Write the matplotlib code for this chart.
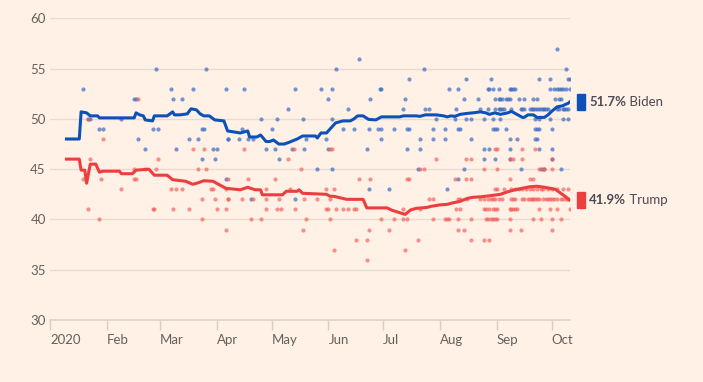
import numpy as np
import matplotlib.pyplot as plt
from matplotlib.patches import Rectangle
from matplotlib.transforms import blended_transform_factory

# polling averages: days since 2020-01-01, value
biden_avg_day = [9, 16, 17, 20, 22, 26, 27, 46, 47, 49, 51, 52, 56, 57, 64, 67, 68, 71, 75, 77,
                 80, 82, 84, 87, 90, 95, 97, 104, 108, 109, 113, 115, 118, 120, 122, 125, 128,
                 131, 135, 138, 145, 146, 148, 151, 154, 156, 160, 164, 166, 168, 171, 174, 178,
                 181, 184, 191, 193, 200, 202, 205, 211, 215, 217, 219, 221, 224, 228, 231, 235,
                 238, 240, 243, 246, 250, 252, 255, 258, 259, 261, 264, 266, 270, 272, 274, 277,
                 280, 281, 283, 284]
biden_avg_val = [48.0, 48.0, 50.7, 50.6, 50.3, 50.3, 50.1, 50.1, 50.6, 50.4, 50.3, 49.9, 49.8, 50.3,
                 50.3, 50.7, 50.4, 50.4, 50.5, 51.0, 50.9, 50.5, 50.3, 50.3, 49.9, 49.8, 48.8, 48.6,
                 48.8, 48.2, 48.2, 48.4, 47.75, 47.75, 47.9, 47.5, 47.5, 47.7, 48.0, 48.3, 48.3,
                 48.1, 48.6, 48.6, 49.2, 49.6, 49.8, 49.8, 50.0, 50.3, 50.3, 49.95, 49.9, 50.2,
                 50.2, 50.2, 50.3, 50.3, 50.25, 50.4, 50.4, 50.3, 50.2, 50.3, 50.25, 50.45, 50.55,
                 50.6, 50.7, 50.6, 50.45, 50.6, 50.45, 50.6, 50.75, 50.45, 50.15, 50.15, 50.4, 50.4,
                 50.15, 50.15, 50.4, 50.75, 51.2, 51.3, 51.4, 51.55, 51.7]

trump_avg_day = [9, 16, 17, 19, 20, 22, 25, 27, 29, 38, 39, 45, 47, 54, 57, 64, 67, 74, 78, 81,
                 84, 89, 92, 96, 104, 108, 112, 115, 116, 127, 129, 135, 136, 138, 151, 153, 155,
                 162, 171, 173, 184, 187, 194, 197, 200, 206, 208, 213, 217, 220, 224, 228, 231,
                 235, 240, 246, 250, 254, 258, 262, 266, 270, 273, 276, 279, 282, 284]
trump_avg_val = [46.0, 46.0, 44.9, 44.9, 43.6, 45.5, 45.5, 44.7, 44.8, 44.8, 44.55, 44.55, 44.9,
                 45.0, 44.4, 44.4, 43.95, 43.8, 43.5, 43.65, 43.85, 43.8, 43.5, 43.1, 42.95, 43.2,
                 42.95, 42.95, 42.45, 42.45, 42.8, 42.8, 42.95, 42.6, 42.5, 42.3, 42.3, 42.0, 42.0,
                 41.15, 41.15, 40.9, 40.5, 40.95, 41.1, 41.2, 41.3, 41.45, 41.5, 41.65, 41.8, 42.1,
                 42.2, 42.25, 42.35, 42.5, 42.75, 42.95, 43.1, 43.25, 43.3, 43.2, 43.1, 43.0, 42.6,
                 42.2, 41.9]

# individual polls
biden_poll_day = [18, 21, 22, 27, 29, 39, 46, 47, 48, 52, 56, 59, 58, 66, 67, 69, 72, 76, 78, 81,
                  83, 84, 83, 85, 89, 91, 90, 96, 97, 97, 103, 96,
                  106, 105, 108, 111, 115, 118, 121, 123, 124, 125, 130, 132, 134, 138, 139, 140,
                  146, 148, 151, 152, 154, 152, 154, 156, 154, 160, 163, 166, 169, 173, 174, 175,
                  174, 179, 181, 180, 181, 181, 185, 188, 193, 194, 195, 196, 195, 196, 201, 202,
                  202, 204, 205, 207, 209, 209, 211, 216, 216, 217, 218, 221, 222, 223, 223, 224,
                  223, 226, 226, 227, 227, 230, 230, 234, 235, 110, 134,
                  277, 282, 241, 267, 273, 283, 284,
                  239, 240, 242, 245, 251, 252, 253, 254, 273, 275, 277, 278, 279, 280, 282, 284,
                  243, 245, 246, 247, 249, 250, 251, 256, 259, 264, 266, 276, 278, 279,
                  239, 243, 245, 246, 247, 248, 252, 257, 258, 259, 262, 263, 264, 265, 266, 267,
                  268, 269, 270, 271, 272, 277, 278, 280, 281, 282, 283,
                  237, 242, 246, 265, 267, 273, 280, 283,
                  242, 243, 244, 249, 265, 266, 267, 274,
                  251, 255, 265, 266,
                  237, 240, 251, 267, 274,
                  237, 243, 251, 274,
                  257, 268, 270, 279]
biden_poll_val = [53, 50, 50, 49, 49, 50, 52, 52, 48, 47, 49, 49, 55, 53, 52, 47, 52, 48, 53, 48,
                  49, 49, 46, 55, 47, 47, 46, 53, 48, 48, 48, 44,
                  53, 49, 48, 48, 50, 47, 49, 47, 50, 46, 51, 47, 53, 50, 47, 48,
                  45, 53, 48, 52, 53, 47, 45, 55, 50, 49, 51, 49, 56, 47, 49, 52,
                  43, 49, 49, 53, 53, 48, 43, 49, 51, 52, 49, 49, 47, 54, 45, 48,
                  47, 55, 51, 51, 49, 48, 50, 49, 48, 43, 53, 50, 51, 53, 49, 49,
                  44, 52, 45, 54, 50, 50, 48, 52, 51, 42, 42,
                  57, 55, 54, 54, 54, 54, 54,
                  53, 53, 53, 53, 53, 53, 53, 53, 53, 53, 53, 53, 53, 53, 53, 53,
                  52, 52, 52, 52, 52, 52, 52, 52, 52, 52, 52, 52, 52, 52,
                  51, 51, 51, 51, 51, 51, 51, 51, 51, 51, 51, 51, 51, 51, 51, 51,
                  51, 51, 51, 51, 51, 51, 51, 51, 51, 51, 51,
                  50, 50, 50, 50, 50, 50, 50, 50,
                  49, 49, 49, 49, 49, 49, 49, 49,
                  48, 48, 48, 48,
                  47, 47, 47, 47, 47,
                  46, 46, 46, 46,
                  45, 45, 45, 45]

trump_poll_day = [18, 22, 21, 29, 28, 48, 46, 46, 47, 52, 59, 58, 78, 84, 81, 85, 89, 97, 39, 21,
                  27, 56, 57, 67, 66, 69, 72, 76, 83, 90, 83, 91, 96, 96, 97, 97, 88, 96,
                  106, 108, 123, 130, 133, 137, 153, 154, 169, 175, 195, 196, 202, 204, 211, 221,
                  227, 230, 227, 230, 118, 131, 151, 155,
                  105, 111, 110, 115, 118, 118, 124, 126, 125, 134, 138, 139, 140, 146, 151, 152,
                  153, 153, 155, 156, 160, 163, 166, 167, 167, 173, 173, 174, 181, 185, 188, 193,
                  193, 195, 194, 201, 202, 207, 209, 209, 216, 217, 218, 222, 224, 223, 223, 226,
                  230, 230, 223, 224, 228,
                  243, 244, 258, 265, 251, 253, 258, 274, 237, 244, 267, 269, 270, 274,
                  251, 262, 264,
                  243, 244, 248, 252, 254, 256, 258, 260, 262, 264, 266, 268, 269, 272, 274, 277,
                  280, 283,
                  235, 237, 239, 241, 242, 243, 245, 247, 252, 253, 254, 258, 259, 261, 262, 263,
                  264, 265, 266, 267, 269, 271, 272, 273, 274, 275, 277, 279, 280, 282, 283,
                  237, 238, 240, 242, 243, 244, 251, 252, 253, 254, 255, 267, 273, 277, 284,
                  238, 239, 241, 242, 243, 244, 251, 264, 268, 274, 279,
                  251, 257, 274,
                  237, 240]
trump_poll_val = [44, 46, 50, 48, 44, 52, 45, 44, 44, 45, 46, 45, 47, 47, 45, 45, 43, 44, 43, 41,
                  40, 41, 41, 41, 43, 43, 43, 41, 42, 42, 40, 41, 41, 39, 42, 42, 43, 43,
                  47, 44, 44, 46, 47, 45, 47, 47, 44, 44, 44, 44, 45, 45, 46, 44,
                  46, 46, 44, 44, 43, 43, 43, 43,
                  42, 42, 40, 40, 42, 41, 41, 41, 42, 41, 39, 42, 40, 42, 41, 41,
                  40, 42, 37, 41, 41, 41, 41, 41, 38, 38, 36, 39, 40, 39, 40, 41,
                  40, 40, 37, 38, 41, 42, 42, 40, 40, 40, 40, 41, 41, 40, 39, 39,
                  40, 38, 42, 42, 42,
                  47, 47, 47, 47, 46, 46, 46, 46, 45, 45, 45, 45, 45, 45,
                  44, 44, 44,
                  43, 43, 43, 43, 43, 43, 43, 43, 43, 43, 43, 43, 43, 43, 43, 43,
                  43, 43,
                  42, 42, 42, 42, 42, 42, 42, 42, 42, 42, 42, 42, 42, 42, 42, 42,
                  42, 42, 42, 42, 42, 42, 42, 42, 42, 42, 42, 42, 42, 42, 42,
                  41, 41, 41, 41, 41, 41, 41, 41, 41, 41, 41, 41, 41, 41, 41,
                  40, 40, 40, 40, 40, 40, 40, 40, 40, 40, 40,
                  39, 39, 39,
                  38, 38]

y_ticks = [30, 35, 40, 45, 50, 55, 60]
month_ticks = ['2020-01-01', '2020-02-01', '2020-03-01', '2020-04-01', '2020-05-01',
               '2020-06-01', '2020-07-01', '2020-08-01', '2020-09-01', '2020-10-01']
month_labels = ['2020', 'Feb', 'Mar', 'Apr', 'May', 'Jun', 'Jul', 'Aug', 'Sep', 'Oct']


def to_dates(days):
    return np.datetime64('2020-01-01') + np.array(days).astype('timedelta64[D]')


bg = '#fff1e5'
txt = '#66605c'
blue = '#0d51b8'
red = '#ee3d3f'

plt.rcParams['font.family'] = ['Lato', 'DejaVu Sans']

fig = plt.figure(figsize=(7.03, 3.82), dpi=100, facecolor=bg)
ax = fig.add_axes([0.0711, 0.1623, 0.7397, 0.7897], facecolor=bg)

ax.scatter(to_dates(biden_poll_day), biden_poll_val, s=9, color='#3a6cc4', alpha=0.7,
           linewidths=0, zorder=3)
ax.scatter(to_dates(trump_poll_day), trump_poll_val, s=9, color='#f35a5a', alpha=0.65,
           linewidths=0, zorder=3)
ax.plot(to_dates(biden_avg_day), biden_avg_val, color=blue, lw=2.2, zorder=4,
        solid_joinstyle='round')
ax.plot(to_dates(trump_avg_day), trump_avg_val, color=red, lw=2.2, zorder=4,
        solid_joinstyle='round')

ax.set_xlim(np.datetime64('2020-01-01'), np.datetime64('2020-10-11'))
ax.set_ylim(30, 60)
ax.set_yticks(y_ticks)
ax.set_yticklabels([str(v) for v in y_ticks])
ax.set_xticks(np.array(month_ticks, dtype='datetime64[D]'))
ax.set_xticklabels(month_labels, ha='left')

for v in y_ticks[1:]:
    ax.axhline(v, color='#e8dbd0', lw=1, zorder=1)
ax.axhline(30, color='#ddd0c5', lw=1.2, zorder=1, clip_on=False)

for s in ax.spines.values():
    s.set_visible(False)
ax.tick_params(axis='y', length=0, pad=3, labelsize=9.5, labelcolor=txt)
ax.tick_params(axis='x', length=7, width=1, color='#d9ccc1', pad=3, labelsize=9.5,
               labelcolor=txt)

# end labels
tr = blended_transform_factory(ax.transAxes, ax.transData)
for val, name, col in [(biden_avg_val[-1], 'Biden', blue), (trump_avg_val[-1], 'Trump', red)]:
    ax.add_patch(Rectangle((1.0129, val - 0.78), 0.016, 1.56, transform=tr, color=col,
                           clip_on=False, zorder=5))
    t1 = ax.text(1.037, val, f'{val:.1f}%', transform=tr, va='center', ha='left',
                 fontsize=9.5, fontweight='bold', color='#4d4a55')
    ax.annotate(' ' + name, xy=(1, 0.5), xycoords=t1, va='center', ha='left',
                fontsize=9.5, color='#4d4a55')

fig.savefig('out.png', dpi=100, facecolor=bg)
